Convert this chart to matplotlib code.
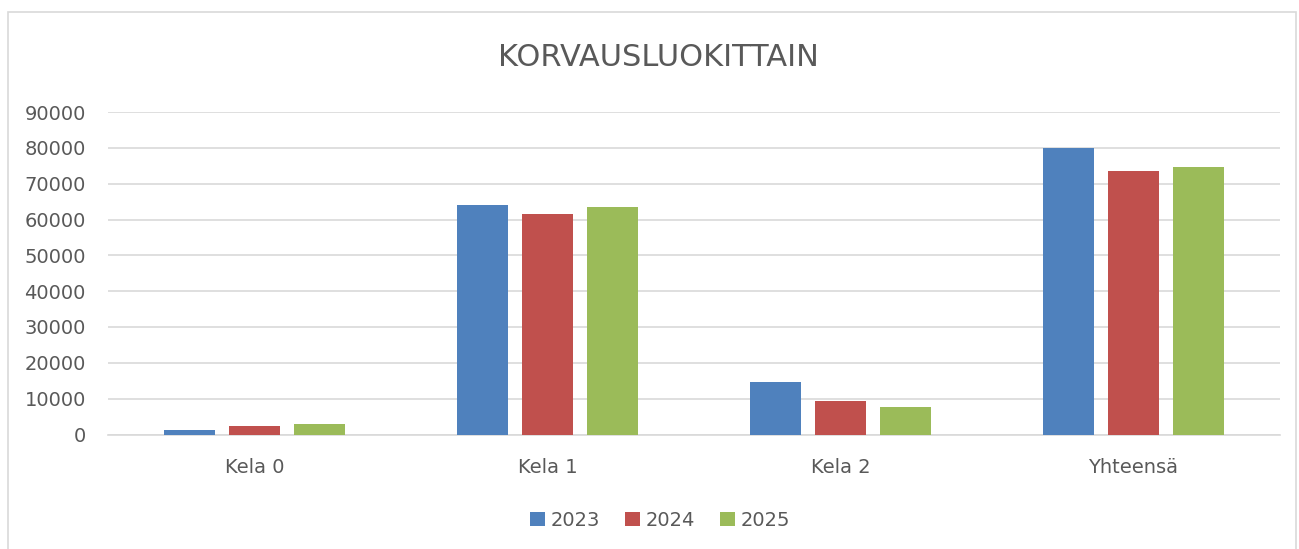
import numpy as np
from matplotlib import pyplot as plt
from matplotlib.patches import Rectangle

categories = ['Kela 0', 'Kela 1', 'Kela 2', 'Yhteensä']
years = ['2023', '2024', '2025']
v2023 = [1300, 64000, 14600, 80000]
v2024 = [2500, 61500, 9300, 73600]
v2025 = [3000, 63500, 7600, 74600]
colors = ['#4F81BD', '#C0504D', '#9BBB59']
txt = '#595959'

plt.rcParams['font.family'] = 'DejaVu Sans'

fig = plt.figure(figsize=(12.99, 5.49), dpi=100)
fig.patches.append(Rectangle((8/1299, -0.01), 1288/1299, 1 - 12/549 + 0.01,
                             transform=fig.transFigure, fill=False,
                             edgecolor='#d9d9d9', lw=1.2))

ax = fig.add_axes([108/1299, 1 - 434.5/549, 1172/1299, 322.5/549])
x = np.arange(len(categories))
w = 0.177
step = 0.222
for i, (vals, yr) in enumerate(zip([v2023, v2024, v2025], years)):
    ax.bar(x + (i - 1)*step, vals, w, color=colors[i], label=yr, zorder=3)

ax.set_xlim(-0.5, 3.5)
ax.set_ylim(0, 90000)
ax.set_yticks(np.arange(0, 90001, 10000))
ax.set_yticklabels([str(v) for v in range(0, 90001, 10000)])
ax.set_xticks(x)
ax.set_xticklabels(categories)
ax.grid(axis='y', color='#d9d9d9', lw=1.2, zorder=0)
for s in ['top', 'right', 'left']:
    ax.spines[s].set_visible(False)
ax.spines['bottom'].set_color('#d9d9d9')
ax.spines['bottom'].set_linewidth(1.2)
ax.tick_params(axis='y', length=0, pad=16, labelsize=14, labelcolor=txt)
ax.tick_params(axis='x', length=0, pad=17, labelsize=14, labelcolor=txt)

fig.text(658/1299, 1 - 57/549, 'KORVAUSLUOKITTAIN', ha='center', va='center',
         fontsize=22, color=txt)

fig.legend(loc='center', bbox_to_anchor=(660/1299, 1 - 520/549), ncol=3,
           frameon=False, fontsize=14, labelcolor=txt, handlelength=0.75,
           handleheight=0.75, handletextpad=0.3, columnspacing=1.3)

plt.savefig('out.png', dpi=100)
